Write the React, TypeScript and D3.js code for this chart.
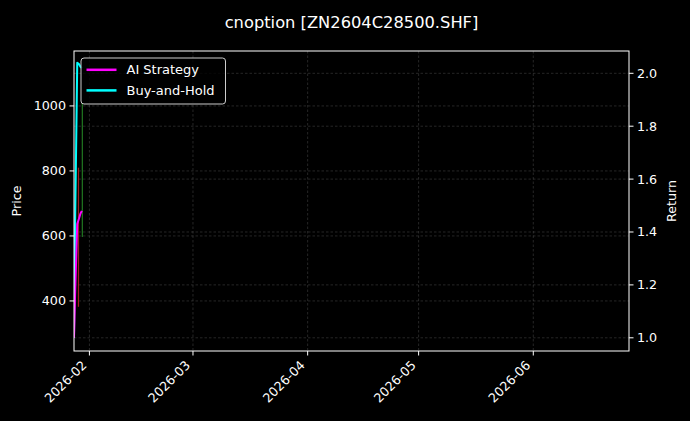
import React from "react";
import * as d3 from "d3";

const W = 690;
const H = 421;
const margin = { left: 74, right: 61, top: 51, bottom: 70 };

const title = "cnoption [ZN2604C28500.SHF]";
const xStart = "2026-01-27T20:00";
const xEnd = "2026-06-26T21:00";

const dates = [
  "2026-01-27T20:00",
  "2026-01-28T03:00",
  "2026-01-28T17:00",
  "2026-01-29T04:00",
  "2026-01-29T14:00",
  "2026-01-29T23:00",
];
const aiReturn = [1.0, 1.16, 1.43, 1.45, 1.47, 1.48];
const bhReturn = [1.0, 1.42, 2.04, 2.035, 2.025, 2.02];

const signalDates = ["2026-01-29T01:00", "2026-01-30T02:00"];
const signalLow = [382, 597];
const signalHigh = [810, 1009];
const signalColors = ["#d62728", "#2ca02c"];

const priceTicks = [400, 600, 800, 1000];
const returnTicks = [1.0, 1.2, 1.4, 1.6, 1.8, 2.0];
const monthTicks = ["2026-02-01", "2026-03-01", "2026-04-01", "2026-05-01", "2026-06-01"];
const monthLabels = ["2026-02", "2026-03", "2026-04", "2026-05", "2026-06"];

const legendNames = ["AI Strategy", "Buy-and-Hold"];
const legendColors = ["magenta", "cyan"];

const FONT = "DejaVu Sans, sans-serif";

export default function App() {
  const x0 = margin.left;
  const x1 = W - margin.right;
  const y0 = margin.top;
  const y1 = H - margin.bottom;
  const parse = (s: string) => new Date(s);
  const x = d3.scaleTime().domain([parse(xStart), parse(xEnd)]).range([x0, x1]);
  const yP = d3.scaleLinear().domain([246, 1169]).range([y1, y0]);
  const yR = d3.scaleLinear().domain([0.9501, 2.0843]).range([y1, y0]);

  const lineR = d3
    .line<number>()
    .x((_, i) => x(parse(dates[i])))
    .y((d) => yR(d));

  const fs = 12.7;
  const gridStyle = { stroke: "#888", strokeOpacity: 0.4, strokeWidth: 0.7, strokeDasharray: "2.5,2" };

  return (
    <div style={{ position: "fixed", left: 0, top: 0, width: W, height: H, background: "#000" }}>
      <svg width={W} height={H} style={{ display: "block", background: "#000" }} fontFamily={FONT}>
        <rect x={0} y={0} width={W} height={H} fill="#000" />
        <defs>
          <clipPath id="plotclip">
            <rect x={x0} y={y0} width={x1 - x0} height={y1 - y0} />
          </clipPath>
        </defs>
        {/* grid */}
        {monthTicks.map((m) => (
          <line key={"gx" + m} x1={x(parse(m))} x2={x(parse(m))} y1={y0} y2={y1} {...gridStyle} />
        ))}
        {priceTicks.map((t) => (
          <line key={"gp" + t} x1={x0} x2={x1} y1={yP(t)} y2={yP(t)} {...gridStyle} />
        ))}
        {returnTicks.map((t) => (
          <line key={"gr" + t} x1={x0} x2={x1} y1={yR(t)} y2={yR(t)} {...gridStyle} />
        ))}
        {/* data */}
        <g clipPath="url(#plotclip)">
          {signalDates.map((d, i) => (
            <line
              key={"s" + i}
              x1={x(parse(d))}
              x2={x(parse(d))}
              y1={yP(signalLow[i])}
              y2={yP(signalHigh[i])}
              stroke={signalColors[i]}
              strokeOpacity={0.75}
              strokeWidth={1.2}
            />
          ))}
          <path d={lineR(bhReturn) || ""} fill="none" stroke="cyan" strokeWidth={2} strokeLinejoin="round" />
          <path d={lineR(aiReturn) || ""} fill="none" stroke="magenta" strokeWidth={2} strokeLinejoin="round" />
        </g>
        {/* spines */}
        <rect x={x0} y={y0} width={x1 - x0} height={y1 - y0} fill="none" stroke="#fff" strokeWidth={1} />
        {/* left ticks */}
        {priceTicks.map((t) => (
          <g key={"lp" + t}>
            <line x1={x0 - 4.5} x2={x0} y1={yP(t)} y2={yP(t)} stroke="#fff" strokeWidth={1} />
            <text x={x0 - 8} y={yP(t)} dy="0.35em" textAnchor="end" fill="#fff" fontSize={fs}>
              {t}
            </text>
          </g>
        ))}
        {/* right ticks */}
        {returnTicks.map((t) => (
          <g key={"rr" + t}>
            <line x1={x1} x2={x1 + 4.5} y1={yR(t)} y2={yR(t)} stroke="#fff" strokeWidth={1} />
            <text x={x1 + 8} y={yR(t)} dy="0.35em" textAnchor="start" fill="#fff" fontSize={fs}>
              {t.toFixed(1)}
            </text>
          </g>
        ))}
        {/* x ticks */}
        {monthTicks.map((m, i) => {
          const px = x(parse(m));
          return (
            <g key={"xt" + m}>
              <line x1={px} x2={px} y1={y1} y2={y1 + 4.5} stroke="#fff" strokeWidth={1} />
              <text
                transform={`translate(${px - 2},${y1 + 15}) rotate(-45)`}
                textAnchor="end"
                fill="#fff"
                fontSize={fs}
              >
                {monthLabels[i]}
              </text>
            </g>
          );
        })}
        {/* axis labels */}
        <text transform={`translate(21,${(y0 + y1) / 2}) rotate(-90)`} textAnchor="middle" fill="#fff" fontSize={fs}>
          Price
        </text>
        <text transform={`translate(676,${(y0 + y1) / 2}) rotate(-90)`} textAnchor="middle" fill="#fff" fontSize={fs}>
          Return
        </text>
        {/* title */}
        <text x={(x0 + x1) / 2} y={28} textAnchor="middle" fill="#fff" fontSize={16.3}>
          {title}
        </text>
        {/* legend */}
        <g>
          <rect x={81} y={58} width={144.5} height={46} rx={3} fill="#000" fillOpacity={0.8} stroke="#ccc" strokeWidth={1} />
          {legendNames.map((n, i) => (
            <g key={n}>
              <line x1={86.5} x2={116.5} y1={69.8 + i * 20.6} y2={69.8 + i * 20.6} stroke={legendColors[i]} strokeWidth={2.5} />
              <text x={126.5} y={69.8 + i * 20.6} dy="0.35em" fill="#fff" fontSize={13}>
                {n}
              </text>
            </g>
          ))}
        </g>
      </svg>
    </div>
  );
}
